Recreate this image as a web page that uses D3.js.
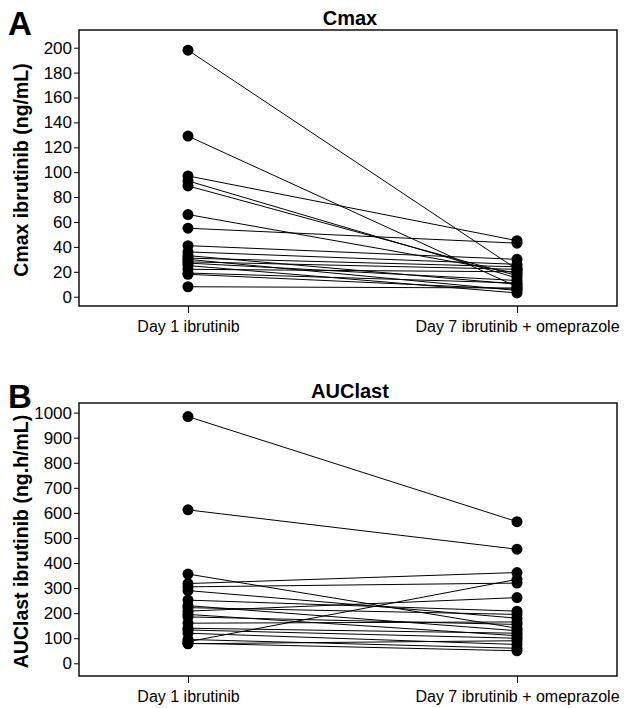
<!DOCTYPE html>
<html>
<head>
<meta charset="utf-8">
<script src="https://cdn.jsdelivr.net/npm/d3@7"></script>
<style>
  body { margin: 0; background: #fff; }
  text { font-family: Arial, "Liberation Sans", sans-serif; }
</style>
</head>
<body>
<div id="chart"></div>
<script>
// visits on the x axis
const visits = ["Day 1 ibrutinib", "Day 7 ibrutinib + omeprazole"];

// Cmax (ng/mL) per subject, day 1 and day 7
const cmaxDay1 = [198, 129, 97, 93, 89, 66, 55, 41, 36, 33, 31, 30, 28, 27, 25, 22, 19, 18, 8];
const cmaxDay7 = [22, 8, 45, 15, 17, 19, 43, 30, 26, 10, 24, 5, 22, 13, 3, 20, 11, 6, 7];
const cmaxTicks = [0, 20, 40, 60, 80, 100, 120, 140, 160, 180, 200];

// AUClast (ng.h/mL) per subject, day 1 and day 7
const aucDay1 = [984, 612, 356, 318, 305, 290, 252, 230, 222, 208, 195, 185, 160, 140, 133, 120, 95, 86, 80, 78];
const aucDay7 = [565, 455, 140, 362, 320, 180, 208, 130, 195, 262, 110, 155, 165, 120, 100, 75, 60, 335, 50, 90];
const aucTicks = [0, 100, 200, 300, 400, 500, 600, 700, 800, 900, 1000];

const svg = d3.select("#chart")
  .append("svg")
  .attr("width", 628)
  .attr("height", 708);

const x = d3.scalePoint().domain(visits).range([188, 517]);

function panel(opts) {
  const g = svg.append("g");
  const y = d3.scaleLinear().domain([0, opts.max]).range([opts.y0, opts.yMax]);

  // letter
  g.append("text")
    .attr("x", 8).attr("y", opts.top + 5)
    .style("font-size", "33px").style("font-weight", "bold")
    .text(opts.letter);

  // title
  g.append("text")
    .attr("x", 350).attr("y", opts.top - 5)
    .attr("text-anchor", "middle")
    .style("font-size", "20px").style("font-weight", "bold")
    .text(opts.title);

  // y label
  g.append("text")
    .attr("transform", `translate(28,${(opts.top + opts.bottom) / 2 + 2}) rotate(-90)`)
    .attr("text-anchor", "middle")
    .style("font-size", "19.5px").style("font-weight", "bold")
    .text(opts.ylabel);

  // frame
  g.append("rect")
    .attr("x", 79).attr("y", opts.top)
    .attr("width", 617 - 79).attr("height", opts.bottom - opts.top)
    .attr("fill", "none").attr("stroke", "#111").attr("stroke-width", 1.5);

  // y axis
  const ya = g.append("g")
    .attr("transform", "translate(79,0)")
    .call(d3.axisLeft(y).tickValues(opts.ticks).tickFormat(d3.format("d")).tickSize(5).tickPadding(2));
  ya.select(".domain").remove();
  ya.selectAll("text").style("font-size", "17px").attr("fill", "#000");
  ya.selectAll("line").attr("stroke", "#000");

  // x axis
  const xa = g.append("g")
    .attr("transform", `translate(0,${opts.bottom})`)
    .call(d3.axisBottom(x).tickSize(7).tickPadding(8));
  xa.select(".domain").remove();
  xa.selectAll("text").style("font-size", "16px").attr("fill", "#000");
  xa.selectAll("line").attr("stroke", "#000");

  // subject lines
  const pairs = opts.d1.map((v, i) => [v, opts.d7[i]]);
  g.selectAll("line.subj")
    .data(pairs)
    .join("line")
    .attr("class", "subj")
    .attr("x1", x(visits[0])).attr("x2", x(visits[1]))
    .attr("y1", d => y(d[0])).attr("y2", d => y(d[1]))
    .attr("stroke", "#000").attr("stroke-width", 1);

  g.selectAll("circle.d1")
    .data(opts.d1)
    .join("circle")
    .attr("class", "d1")
    .attr("cx", x(visits[0])).attr("cy", d => y(d)).attr("r", 5.5);

  g.selectAll("circle.d7")
    .data(opts.d7)
    .join("circle")
    .attr("class", "d7")
    .attr("cx", x(visits[1])).attr("cy", d => y(d)).attr("r", 5.5);
}

panel({
  letter: "A", title: "Cmax", ylabel: "Cmax ibrutinib (ng/mL)",
  top: 30, bottom: 306, y0: 296.7, yMax: 47.7, max: 200,
  ticks: cmaxTicks, d1: cmaxDay1, d7: cmaxDay7
});

panel({
  letter: "B", title: "AUClast", ylabel: "AUClast ibrutinib (ng.h/mL)",
  top: 403, bottom: 676, y0: 663.3, yMax: 412.6, max: 1000,
  ticks: aucTicks, d1: aucDay1, d7: aucDay7
});
</script>
</body>
</html>
